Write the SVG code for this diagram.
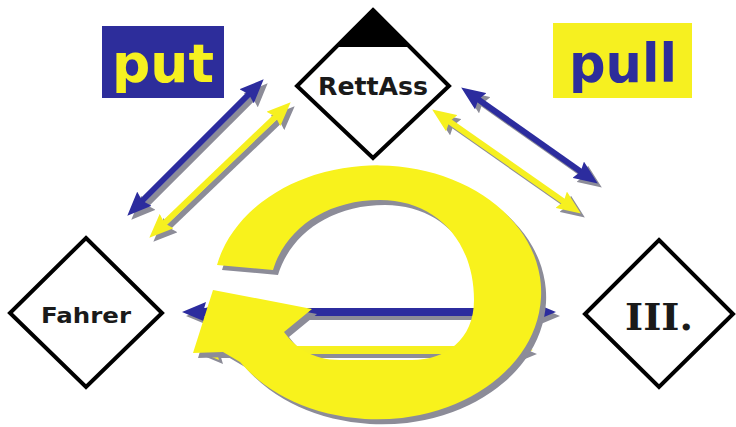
<svg xmlns="http://www.w3.org/2000/svg" width="736" height="427" viewBox="0 0 736 427">
<style>
.blue{stroke:#2c2c9e;stroke-width:6;fill:none}
.yel{stroke:#f6f020;stroke-width:6;fill:none}
.shd{stroke:#8c8c98;stroke-width:6;fill:none}
.hz{stroke-width:8}
.dia{fill:#ffffff;stroke:#000000;stroke-width:4;stroke-linejoin:miter}
.lbl{font-family:"DejaVu Sans",Verdana,sans-serif;font-weight:bold;text-anchor:middle}
</style>
<defs>
<marker id="hb" viewBox="0 0 24 20" markerWidth="24" markerHeight="20" refX="11" refY="10" orient="auto-start-reverse" markerUnits="userSpaceOnUse"><path d="M0,0 L24,10 L0,20 L3,10 Z" fill="#2c2c9e"/></marker>
<marker id="hy" viewBox="0 0 24 20" markerWidth="24" markerHeight="20" refX="11" refY="10" orient="auto-start-reverse" markerUnits="userSpaceOnUse"><path d="M0,0 L24,10 L0,20 L3,10 Z" fill="#f6f020"/></marker>
<marker id="hs" viewBox="0 0 24 20" markerWidth="24" markerHeight="20" refX="11" refY="10" orient="auto-start-reverse" markerUnits="userSpaceOnUse"><path d="M0,0 L24,10 L0,20 L3,10 Z" fill="#8c8c98"/></marker>
<path id="ringShape" d="M217,265 A164 127 0 1 1 240,362 L223,352 L193,353 L213,290 L312,309 L284,332 C295,347 312,360 340,360 L412,360 C445,360 474,340 474,300 C474,240 435,200 380,200 C325,200 285,230 273,270 Z"/>
</defs>
<rect x="0" y="0" width="736" height="427" fill="#ffffff"/>

<g id="label-put">
<rect x="102" y="26" width="122" height="72" fill="#2d2d9b"/>
<text class="lbl" x="163" y="82" font-size="54" fill="#f6f020" textLength="102" lengthAdjust="spacingAndGlyphs">put</text>
</g>
<g id="label-pull">
<rect x="553" y="23" width="139" height="75" fill="#f6f020"/>
<text class="lbl" x="623" y="82" font-size="53" fill="#2d2d9b" textLength="108" lengthAdjust="spacingAndGlyphs">pull</text>
</g>

<g id="connectors">
<g transform="translate(4,4)">
<line class="shd" x1="136.5" y1="206.5" x2="254.5" y2="88.5" marker-start="url(#hs)" marker-end="url(#hs)"/>
<line class="shd" x1="158.7" y1="228.7" x2="281.3" y2="111.3" marker-start="url(#hs)" marker-end="url(#hs)"/>
<line class="shd" x1="471.8" y1="94.9" x2="587.2" y2="176.1" marker-start="url(#hs)" marker-end="url(#hs)"/>
<line class="shd" x1="442.8" y1="116.9" x2="570.2" y2="206.1" marker-start="url(#hs)" marker-end="url(#hs)"/>
<line class="shd hz" x1="195" y1="312" x2="543" y2="312" marker-start="url(#hs)" marker-end="url(#hs)"/>
<line class="shd hz" x1="208" y1="350" x2="520" y2="350" marker-start="url(#hs)" marker-end="url(#hs)"/>
</g>
<line class="blue" x1="136.5" y1="206.5" x2="254.5" y2="88.5" marker-start="url(#hb)" marker-end="url(#hb)"/>
<line class="yel" x1="158.7" y1="228.7" x2="281.3" y2="111.3" marker-start="url(#hy)" marker-end="url(#hy)"/>
<line class="blue" x1="471.8" y1="94.9" x2="587.2" y2="176.1" marker-start="url(#hb)" marker-end="url(#hb)"/>
<line class="yel" x1="442.8" y1="116.9" x2="570.2" y2="206.1" marker-start="url(#hy)" marker-end="url(#hy)"/>
<line class="blue hz" x1="195" y1="312" x2="543" y2="312" marker-start="url(#hb)" marker-end="url(#hb)"/>
<line class="yel hz" x1="208" y1="350" x2="520" y2="350" marker-start="url(#hy)" marker-end="url(#hy)"/>
</g>

<g id="cycle">
<use href="#ringShape" transform="translate(5,5)" fill="#8c8c98"/>
<use href="#ringShape" fill="#f8f21c"/>
</g>

<g id="node-rettass">
<polygon class="dia" points="373,10 449,86 373,158 297,86"/>
<polygon points="373,10 410,47 336,47" fill="#000000"/>
<text class="lbl" x="373" y="95" font-size="25" fill="#1a1a1a" textLength="110" lengthAdjust="spacingAndGlyphs">RettAss</text>
</g>
<g id="node-fahrer">
<polygon class="dia" points="86,238 162,313 86,387 10,313"/>
<text class="lbl" x="86" y="323" font-size="22" fill="#1a1a1a" textLength="90" lengthAdjust="spacingAndGlyphs">Fahrer</text>
</g>
<g id="node-iii">
<polygon class="dia" points="659,240 733,314 659,387 585,314"/>
<text x="659" y="330" font-family="'DejaVu Serif',serif" font-weight="bold" font-size="37" text-anchor="middle" fill="#1a1a1a" textLength="68" lengthAdjust="spacingAndGlyphs">III.</text>
</g>
</svg>
